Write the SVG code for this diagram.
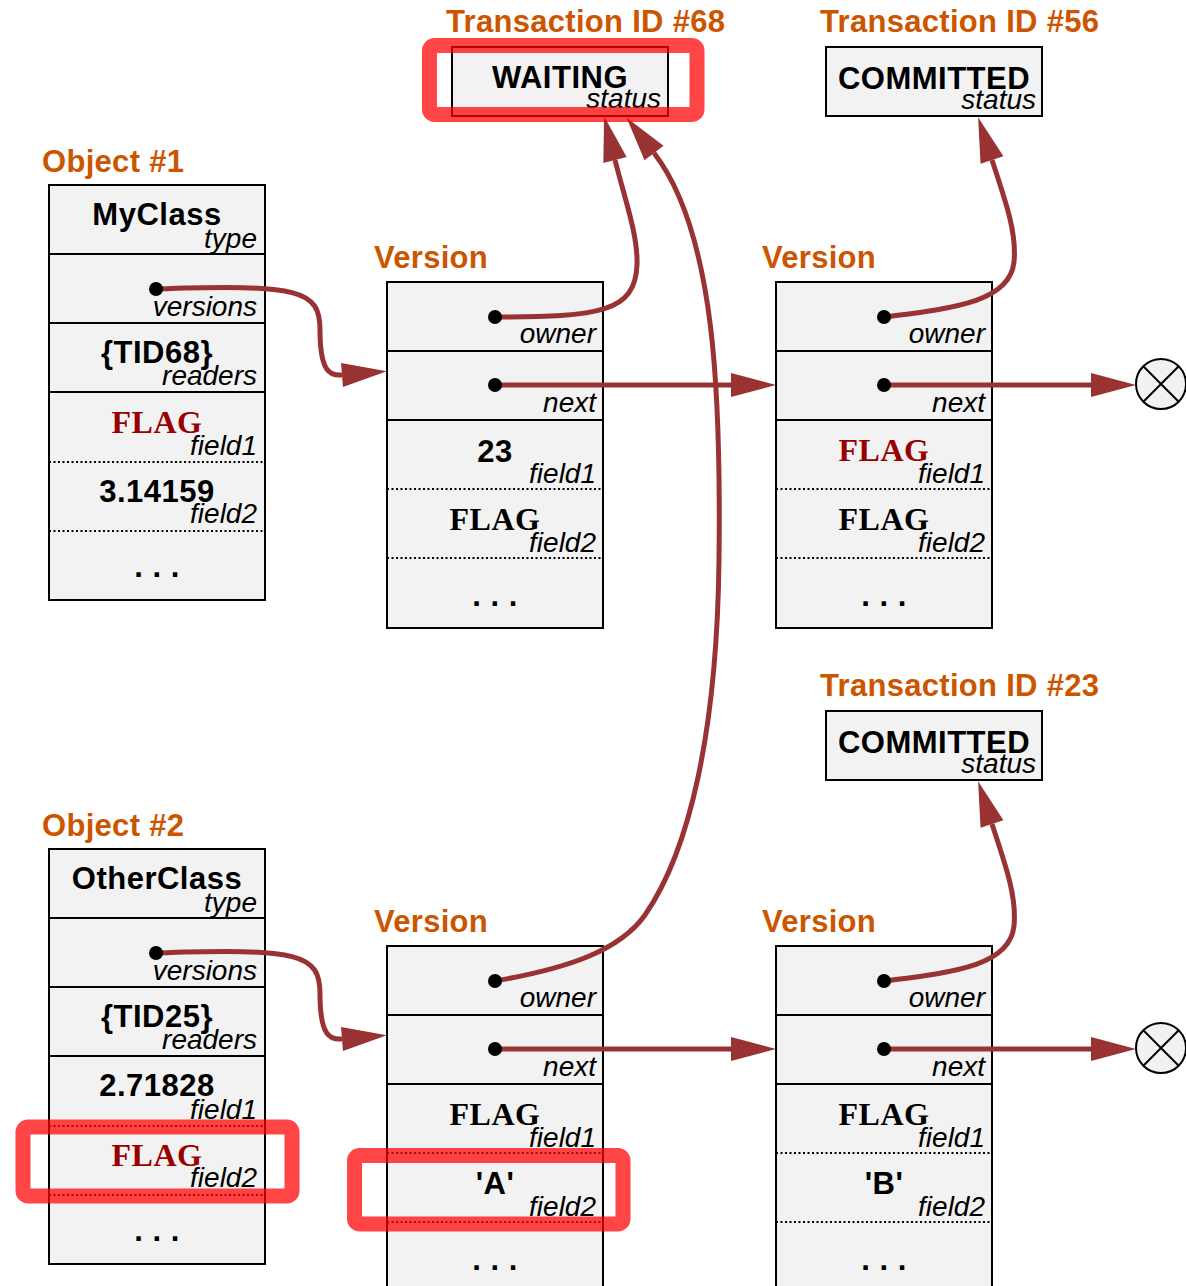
<svg xmlns="http://www.w3.org/2000/svg" width="1186" height="1286" viewBox="0 0 1186 1286">
<style>
.box{fill:#f2f2f2;stroke:#000;stroke-width:2}
.sl{stroke:#000;stroke-width:2}
.dl{stroke:#000;stroke-width:2;stroke-dasharray:2 2.5}
.val{font-family:"Liberation Sans",Arial,sans-serif;font-weight:bold;font-size:31px;letter-spacing:0.5px;text-anchor:middle;fill:#000}
.lbl{font-family:"Liberation Sans",Arial,sans-serif;font-style:italic;font-size:28px;text-anchor:end;fill:#000}
.flag{font-family:"Liberation Serif","Times New Roman",serif;font-weight:bold;font-size:32px;letter-spacing:0.5px;text-anchor:middle;fill:#000}
.red{fill:#990000}
.title{font-family:"Liberation Sans",Arial,sans-serif;font-weight:bold;font-size:31px;letter-spacing:0.3px;fill:#cc5500}
.conn{fill:none;stroke:#993333;stroke-width:5;marker-end:url(#ah)}
.dot{fill:#000}
.hl{fill:none;stroke:#ff0000;stroke-opacity:0.73;stroke-width:15}
.null{fill:#f2f2f2;stroke:#000;stroke-width:2}
</style>
<defs>
<marker id="ah" markerUnits="userSpaceOnUse" markerWidth="46" markerHeight="24" refX="0" refY="12" orient="auto" overflow="visible">
<path d="M0,0 L45,12 L0,24 z" fill="#993333"/>
</marker>
</defs>

<g id="tx68">
<text class="title" x="446" y="32">Transaction ID #68</text>
<rect class="box" x="452" y="47" width="216" height="69"/>
<text class="val" x="560" y="88">WAITING</text>
<text class="lbl" x="661" y="108">status</text>
</g>

<g id="tx56">
<text class="title" x="820" y="32">Transaction ID #56</text>
<rect class="box" x="826" y="47" width="216" height="69"/>
<text class="val" x="934" y="89">COMMITTED</text>
<text class="lbl" x="1036" y="109">status</text>
</g>

<g id="tx23">
<text class="title" x="820" y="696">Transaction ID #23</text>
<rect class="box" x="826" y="711" width="216" height="69"/>
<text class="val" x="934" y="753">COMMITTED</text>
<text class="lbl" x="1036" y="773">status</text>
</g>

<g id="object1">
<text class="title" x="42" y="172">Object #1</text>
<rect class="box" x="49" y="185" width="216" height="415"/>
<line class="sl" x1="49" y1="254" x2="265" y2="254"/>
<line class="sl" x1="49" y1="323" x2="265" y2="323"/>
<line class="sl" x1="49" y1="392" x2="265" y2="392"/>
<line class="dl" x1="49" y1="462" x2="265" y2="462"/>
<line class="dl" x1="49" y1="531" x2="265" y2="531"/>
<text class="val" x="157" y="225">MyClass</text>
<text class="lbl" x="257" y="248">type</text>
<text class="lbl" x="257" y="316">versions</text>
<text class="val" x="157" y="363">{TID68}</text>
<text class="lbl" x="257" y="385">readers</text>
<text class="flag red" x="157" y="433">FLAG</text>
<text class="lbl" x="257" y="455">field1</text>
<text class="val" x="157" y="502">3.14159</text>
<text class="lbl" x="257" y="523">field2</text>
<text class="val" x="157" y="577">. . .</text>
</g>

<g id="version1">
<text class="title" x="374" y="268">Version</text>
<rect class="box" x="387" y="282" width="216" height="346"/>
<line class="sl" x1="387" y1="351" x2="603" y2="351"/>
<line class="sl" x1="387" y1="420" x2="603" y2="420"/>
<line class="dl" x1="387" y1="489" x2="603" y2="489"/>
<line class="dl" x1="387" y1="558" x2="603" y2="558"/>
<text class="lbl" x="596" y="343">owner</text>
<text class="lbl" x="596" y="412">next</text>
<text class="val" x="495" y="462">23</text>
<text class="lbl" x="596" y="483">field1</text>
<text class="flag" x="495" y="530">FLAG</text>
<text class="lbl" x="596" y="552">field2</text>
<text class="val" x="495" y="606">. . .</text>
</g>

<g id="version2">
<text class="title" x="762" y="268">Version</text>
<rect class="box" x="776" y="282" width="216" height="346"/>
<line class="sl" x1="776" y1="351" x2="992" y2="351"/>
<line class="sl" x1="776" y1="420" x2="992" y2="420"/>
<line class="dl" x1="776" y1="489" x2="992" y2="489"/>
<line class="dl" x1="776" y1="558" x2="992" y2="558"/>
<text class="lbl" x="985" y="343">owner</text>
<text class="lbl" x="985" y="412">next</text>
<text class="flag red" x="884" y="461">FLAG</text>
<text class="lbl" x="985" y="483">field1</text>
<text class="flag" x="884" y="530">FLAG</text>
<text class="lbl" x="985" y="552">field2</text>
<text class="val" x="884" y="606">. . .</text>
</g>

<g id="null1">
<circle class="null" cx="1161" cy="384" r="25"/>
<line class="sl" x1="1143.3" y1="366.3" x2="1178.7" y2="401.7"/>
<line class="sl" x1="1178.7" y1="366.3" x2="1143.3" y2="401.7"/>
</g>

<g id="object2">
<text class="title" x="42" y="836">Object #2</text>
<rect class="box" x="49" y="849" width="216" height="415"/>
<line class="sl" x1="49" y1="918" x2="265" y2="918"/>
<line class="sl" x1="49" y1="987" x2="265" y2="987"/>
<line class="sl" x1="49" y1="1056" x2="265" y2="1056"/>
<line class="dl" x1="49" y1="1126" x2="265" y2="1126"/>
<line class="dl" x1="49" y1="1195" x2="265" y2="1195"/>
<text class="val" x="157" y="889">OtherClass</text>
<text class="lbl" x="257" y="912">type</text>
<text class="lbl" x="257" y="980">versions</text>
<text class="val" x="157" y="1027">{TID25}</text>
<text class="lbl" x="257" y="1049">readers</text>
<text class="val" x="157" y="1096">2.71828</text>
<text class="lbl" x="257" y="1119">field1</text>
<text class="flag red" x="157" y="1166">FLAG</text>
<text class="lbl" x="257" y="1187">field2</text>
<text class="val" x="157" y="1241">. . .</text>
</g>

<g id="version3">
<text class="title" x="374" y="932">Version</text>
<rect class="box" x="387" y="946" width="216" height="360"/>
<line class="sl" x1="387" y1="1015" x2="603" y2="1015"/>
<line class="sl" x1="387" y1="1084" x2="603" y2="1084"/>
<line class="dl" x1="387" y1="1153" x2="603" y2="1153"/>
<line class="dl" x1="387" y1="1222" x2="603" y2="1222"/>
<text class="lbl" x="596" y="1007">owner</text>
<text class="lbl" x="596" y="1076">next</text>
<text class="flag" x="495" y="1125">FLAG</text>
<text class="lbl" x="596" y="1147">field1</text>
<text class="val" x="495" y="1194">'A'</text>
<text class="lbl" x="596" y="1216">field2</text>
<text class="val" x="495" y="1270">. . .</text>
</g>

<g id="version4">
<text class="title" x="762" y="932">Version</text>
<rect class="box" x="776" y="946" width="216" height="360"/>
<line class="sl" x1="776" y1="1015" x2="992" y2="1015"/>
<line class="sl" x1="776" y1="1084" x2="992" y2="1084"/>
<line class="dl" x1="776" y1="1153" x2="992" y2="1153"/>
<line class="dl" x1="776" y1="1222" x2="992" y2="1222"/>
<text class="lbl" x="985" y="1007">owner</text>
<text class="lbl" x="985" y="1076">next</text>
<text class="flag" x="884" y="1125">FLAG</text>
<text class="lbl" x="985" y="1147">field1</text>
<text class="val" x="884" y="1194">'B'</text>
<text class="lbl" x="985" y="1216">field2</text>
<text class="val" x="884" y="1270">. . .</text>
</g>

<g id="null2">
<circle class="null" cx="1161" cy="1048" r="25"/>
<line class="sl" x1="1143.3" y1="1030.3" x2="1178.7" y2="1065.7"/>
<line class="sl" x1="1178.7" y1="1030.3" x2="1143.3" y2="1065.7"/>
</g>

<g id="connectors">
<path class="conn" d="M156,289 C300,284 320,290 320,330 C320,372 330,376 342,375"/>
<path class="conn" d="M495,385 L731,385"/>
<path class="conn" d="M884,385 L1091,385"/>
<path class="conn" d="M495,317 C600,317 635,312 637,265 C638,235 625,200 615,160"/>
<path class="conn" d="M884,317 C960,308 1010,300 1014,262 C1017,232 1005,200 992,160"/>
<path class="conn" d="M156,953 C300,948 320,954 320,994 C320,1036 330,1040 342,1039"/>
<path class="conn" d="M495,1049 L731,1049"/>
<path class="conn" d="M884,1049 L1091,1049"/>
<path class="conn" d="M495,981 C570,968 620,950 645,915 C690,850 717,730 719,560 C721,400 716,233 654,153"/>
<path class="conn" d="M884,981 C960,972 1010,964 1014,926 C1017,896 1005,864 992,824"/>
<circle class="dot" cx="156" cy="289" r="7"/>
<circle class="dot" cx="495" cy="317" r="7"/>
<circle class="dot" cx="495" cy="385" r="7"/>
<circle class="dot" cx="884" cy="317" r="7"/>
<circle class="dot" cx="884" cy="385" r="7"/>
<circle class="dot" cx="156" cy="953" r="7"/>
<circle class="dot" cx="495" cy="981" r="7"/>
<circle class="dot" cx="495" cy="1049" r="7"/>
<circle class="dot" cx="884" cy="981" r="7"/>
<circle class="dot" cx="884" cy="1049" r="7"/>
</g>

<g id="highlights">
<rect class="hl" x="429.5" y="45.5" width="267.5" height="69" rx="5"/>
<rect class="hl" x="23" y="1127" width="269" height="69" rx="5"/>
<rect class="hl" x="354.5" y="1155.5" width="268.5" height="68.5" rx="5"/>
</g>
</svg>
